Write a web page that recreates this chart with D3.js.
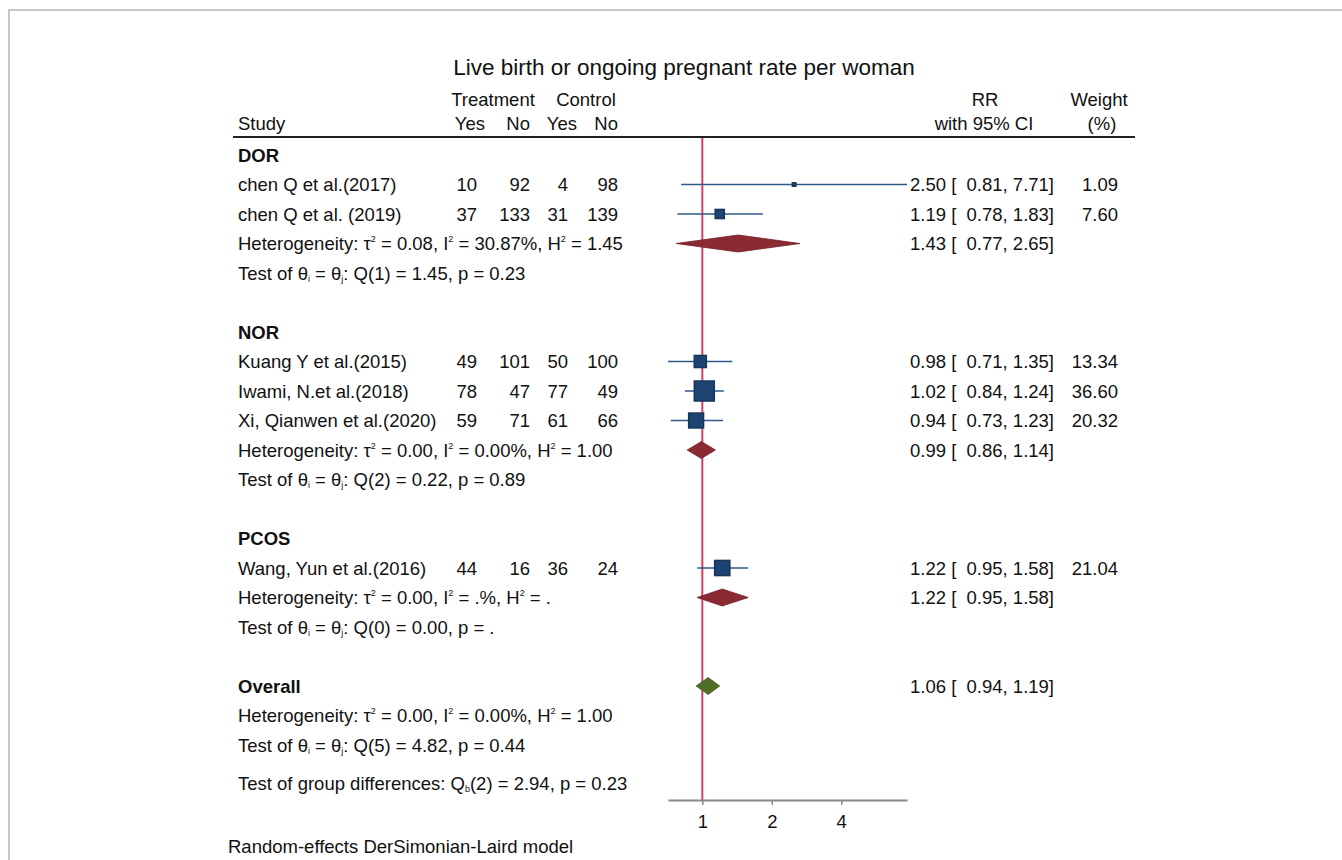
<!DOCTYPE html>
<html>
<head>
<meta charset="utf-8">
<script src="https://cdn.jsdelivr.net/npm/d3@7/dist/d3.min.js"></script>
<style>
  body { margin: 0; background: #fff; }
  svg { display: block; }
  text { font-family: "Liberation Sans", Arial, sans-serif; fill: #111; white-space: pre; }
</style>
</head>
<body>
<svg id="chart" width="1342" height="860"></svg>
<script>
// ---------- data ----------
const title = "Live birth or ongoing pregnant rate per woman";
const groups = ["DOR", "NOR", "PCOS"];
const studyNames = ["chen Q et al.(2017)", "chen Q et al. (2019)", "Kuang Y et al.(2015)", "Iwami, N.et al.(2018)", "Xi, Qianwen et al.(2020)", "Wang, Yun et al.(2016)"];
const studyGroup = ["DOR", "DOR", "NOR", "NOR", "NOR", "PCOS"];
const treatYes = [10, 37, 49, 78, 59, 44];
const treatNo = [92, 133, 101, 47, 71, 16];
const ctrlYes = [4, 31, 50, 77, 61, 36];
const ctrlNo = [98, 139, 100, 49, 66, 24];
const studyRR = [2.50, 1.19, 0.98, 1.02, 0.94, 1.22];
const studyLo = [0.81, 0.78, 0.71, 0.84, 0.73, 0.95];
const studyHi = [7.71, 1.83, 1.35, 1.24, 1.23, 1.58];
const studyWeight = [1.09, 7.60, 13.34, 36.60, 20.32, 21.04];

const groupRR = [1.43, 0.99, 1.22];
const groupLo = [0.77, 0.86, 0.95];
const groupHi = [2.65, 1.14, 1.58];
const groupHet = [
  "Heterogeneity: τ^2 = 0.08, I^2 = 30.87%, H^2 = 1.45",
  "Heterogeneity: τ^2 = 0.00, I^2 = 0.00%, H^2 = 1.00",
  "Heterogeneity: τ^2 = 0.00, I^2 = .%, H^2 = ."
];
const groupTest = [
  "Test of θ_i = θ_j: Q(1) = 1.45, p = 0.23",
  "Test of θ_i = θ_j: Q(2) = 0.22, p = 0.89",
  "Test of θ_i = θ_j: Q(0) = 0.00, p = ."
];
const overallRR = 1.06, overallLo = 0.94, overallHi = 1.19;
const overallHet = "Heterogeneity: τ^2 = 0.00, I^2 = 0.00%, H^2 = 1.00";
const overallTest = "Test of θ_i = θ_j: Q(5) = 4.82, p = 0.44";
const groupDiff = "Test of group differences: Q_b(2) = 2.94, p = 0.23";
const footnote = "Random-effects DerSimonian-Laird model";
const axisTicks = [1, 2, 4];
const axisDomain = [0.71, 7.71];

// ---------- layout ----------
const svg = d3.select("#chart");
const FS = 18.5;
const xStudy = 238;
const colRight = { ty: 477, tn: 530, cy: 568, cn: 618 };
const xRR = 910, xW = 1118;
const rowY = d3.scaleLinear().domain([0, 1]).range([155, 184.5]);
const x = d3.scaleLog().domain(axisDomain).range([668, 907]);
const size = d3.scaleSqrt().domain([0, 36.6]).range([0, 20]);
const fmt = d3.format(".2f");
const base = 6.6;

// frame
svg.append("path").attr("d", "M9,860V10H1342").attr("fill", "none").attr("stroke", "#b4b4b4").attr("stroke-width", 1.5);

// build rows
const rows = [];
let k = 0;
groups.forEach((g, gi) => {
  rows.push({ type: "group", k: k++, label: g });
  studyNames.forEach((s, i) => {
    if (studyGroup[i] === g) rows.push({ type: "study", k: k++, i });
  });
  rows.push({ type: "sum", k: k, gi, label: groupHet[gi] }); k++;
  rows.push({ type: "test", k: k++, label: groupTest[gi] });
  k++;
});
rows.push({ type: "group", k: k++, label: "Overall", overall: true });
rows.push({ type: "test", k: k++, label: overallHet });
rows.push({ type: "test", k: k++, label: overallTest });

function richText(sel, str) {
  const parts = str.split(/([\^_].)/);
  parts.forEach(p => {
    if (!p) return;
    if (p[0] === "^") sel.append("tspan").attr("font-size", 9).attr("dy", -8).text(p[1]).call(t => t.node().__shift = 8);
    else if (p[0] === "_") sel.append("tspan").attr("font-size", 9).attr("dy", 2).text(p[1]).call(t => t.node().__shift = -2);
    else sel.append("tspan").text(p);
  });
  // reset dy after shifted spans
  sel.selectAll("tspan").each(function(d, i, nodes) {
    const prev = nodes[i - 1];
    if (prev && prev.__shift && !this.__shift) d3.select(this).attr("dy", prev.__shift);
  });
}

// title & header
svg.append("text").attr("x", 684).attr("y", 75).attr("text-anchor", "middle").attr("font-size", 22.5).attr("fill", "#1a1a1a").text(title);
svg.append("text").attr("x", 493).attr("y", 106).attr("text-anchor", "middle").attr("font-size", FS).text("Treatment");
svg.append("text").attr("x", 586).attr("y", 106).attr("text-anchor", "middle").attr("font-size", FS).text("Control");
svg.append("text").attr("x", xStudy).attr("y", 130).attr("font-size", FS).text("Study");
[["Yes", 485], ["No", 530], ["Yes", 577], ["No", 618]].forEach(([t, xx]) =>
  svg.append("text").attr("x", xx).attr("y", 130).attr("text-anchor", "end").attr("font-size", FS).text(t));
svg.append("text").attr("x", 985).attr("y", 106).attr("text-anchor", "middle").attr("font-size", FS).text("RR");
svg.append("text").attr("x", 984).attr("y", 130).attr("text-anchor", "middle").attr("font-size", FS).text("with 95% CI");
svg.append("text").attr("x", 1099).attr("y", 106).attr("text-anchor", "middle").attr("font-size", FS).text("Weight");
svg.append("text").attr("x", 1102).attr("y", 130).attr("text-anchor", "middle").attr("font-size", FS).text("(%)");
svg.append("line").attr("x1", 233).attr("x2", 1135).attr("y1", 137).attr("y2", 137).attr("stroke", "#222").attr("stroke-width", 2);

// reference line
const axisY = 800;
svg.append("line").attr("x1", x(1)).attr("x2", x(1)).attr("y1", 138).attr("y2", axisY)
  .attr("stroke", "#dc3c64").attr("stroke-width", 2);

const rrLabel = (r, lo, hi) => `${fmt(r)} [  ${fmt(lo)}, ${fmt(hi)}]`;
const diamond = (r, lo, hi, cy, h) => `M${x(lo)},${cy}L${x(r)},${cy - h}L${x(hi)},${cy}L${x(r)},${cy + h}Z`;

rows.forEach(r => {
  const cy = rowY(r.k);
  if (r.type === "group") {
    svg.append("text").attr("x", xStudy).attr("y", cy + base).attr("font-size", FS).attr("font-weight", "bold").text(r.label);
    if (r.overall) {
      svg.append("path").attr("d", diamond(overallRR, overallLo, overallHi, cy, 8.5))
        .attr("fill", "#4f6f27").attr("stroke", "#3f5a1e").attr("stroke-width", 0.8);
      svg.append("text").attr("x", xRR).attr("y", cy + base).attr("font-size", FS).text(rrLabel(overallRR, overallLo, overallHi));
    }
  } else if (r.type === "study") {
    const i = r.i;
    svg.append("text").attr("x", xStudy).attr("y", cy + base).attr("font-size", FS).text(studyNames[i]);
    [["ty", treatYes], ["tn", treatNo], ["cy", ctrlYes], ["cn", ctrlNo]].forEach(([c, arr]) =>
      svg.append("text").attr("x", colRight[c]).attr("y", cy + base).attr("text-anchor", "end").attr("font-size", FS).text(arr[i]));
    svg.append("line").attr("x1", x(studyLo[i])).attr("x2", x(studyHi[i])).attr("y1", cy).attr("y2", cy)
      .attr("stroke", "#2e5a88").attr("stroke-width", 1.6);
    const s = size(studyWeight[i]);
    svg.append("rect").attr("x", x(studyRR[i]) - s / 2).attr("y", cy - s / 2).attr("width", s).attr("height", s)
      .attr("fill", "#1d4470").attr("stroke", "#16365a").attr("stroke-width", 1.5);
    svg.append("text").attr("x", xRR).attr("y", cy + base).attr("font-size", FS).text(rrLabel(studyRR[i], studyLo[i], studyHi[i]));
    svg.append("text").attr("x", xW).attr("y", cy + base).attr("text-anchor", "end").attr("font-size", FS).text(fmt(studyWeight[i]));
  } else if (r.type === "sum") {
    const gi = r.gi;
    svg.append("text").attr("x", xStudy).attr("y", cy + base).attr("font-size", FS).call(richText, r.label);
    svg.append("path").attr("d", diamond(groupRR[gi], groupLo[gi], groupHi[gi], cy, 8.5))
      .attr("fill", "#8c2a33").attr("stroke", "#6e1f27").attr("stroke-width", 0.8);
    svg.append("text").attr("x", xRR).attr("y", cy + base).attr("font-size", FS).text(rrLabel(groupRR[gi], groupLo[gi], groupHi[gi]));
  } else {
    svg.append("text").attr("x", xStudy).attr("y", cy + base).attr("font-size", FS).call(richText, r.label);
  }
});

svg.append("text").attr("x", xStudy).attr("y", 783 + base).attr("font-size", FS).call(richText, groupDiff);

// axis
const axis = d3.axisBottom(x).tickValues(axisTicks).tickFormat(d3.format("d")).tickSize(5).tickSizeOuter(0);
const ag = svg.append("g").attr("transform", `translate(0,${axisY})`).call(axis);
ag.select(".domain").attr("stroke", "#888").attr("stroke-width", 2);
ag.selectAll(".tick line").attr("stroke", "#888").attr("stroke-width", 1.5);
ag.selectAll(".tick text").attr("font-size", FS).attr("fill", "#111").attr("dy", null).attr("y", 28)
  .style("font-family", '"Liberation Sans", Arial, sans-serif');

svg.append("text").attr("x", 228).attr("y", 853).attr("font-size", FS).text(footnote);
</script>
</body>
</html>
